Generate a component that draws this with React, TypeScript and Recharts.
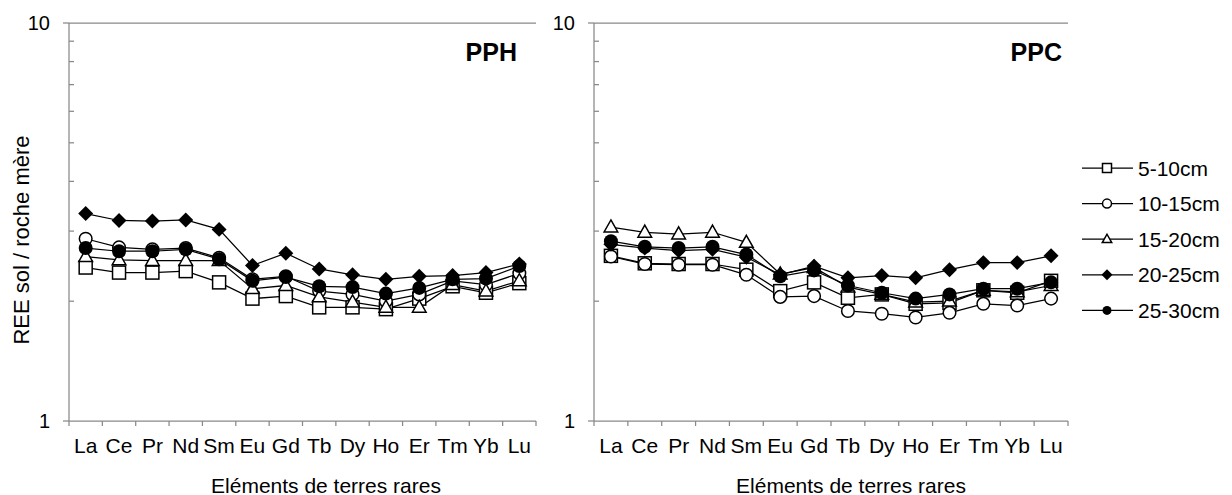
import React from 'react';
import { LineChart, Line, XAxis, YAxis, ReferenceLine } from 'recharts';

// Rare earth elements (x axis)
const elements = ['La', 'Ce', 'Pr', 'Nd', 'Sm', 'Eu', 'Gd', 'Tb', 'Dy', 'Ho', 'Er', 'Tm', 'Yb', 'Lu'];
const depths = ['5-10cm', '10-15cm', '15-20cm', '20-25cm', '25-30cm'];
const yTicks = [1, 2, 3, 4, 5, 6, 7, 8, 9, 10];

// PPH - REE sol / roche mere
const pph5_10 = [2.43, 2.36, 2.36, 2.38, 2.23, 2.03, 2.06, 1.93, 1.93, 1.91, 2.03, 2.18, 2.1, 2.22];
const pph10_15 = [2.87, 2.73, 2.7, 2.72, 2.57, 2.27, 2.31, 2.12, 2.08, 2.0, 2.08, 2.25, 2.2, 2.35];
const pph15_20 = [2.59, 2.54, 2.53, 2.53, 2.53, 2.15, 2.19, 2.05, 1.99, 1.93, 1.93, 2.2, 2.12, 2.25];
const pph20_25 = [3.32, 3.19, 3.18, 3.2, 3.03, 2.46, 2.64, 2.41, 2.33, 2.27, 2.31, 2.32, 2.36, 2.48];
const pph25_30 = [2.72, 2.67, 2.67, 2.7, 2.55, 2.25, 2.3, 2.18, 2.17, 2.09, 2.16, 2.27, 2.28, 2.45];

// PPC
const ppc5_10 = [2.6, 2.49, 2.48, 2.48, 2.4, 2.12, 2.23, 2.04, 2.08, 1.97, 1.98, 2.13, 2.1, 2.25];
const ppc10_15 = [2.59, 2.48, 2.47, 2.47, 2.33, 2.05, 2.06, 1.89, 1.86, 1.82, 1.87, 1.97, 1.95, 2.03];
const ppc15_20 = [3.07, 2.98, 2.95, 2.98, 2.81, 2.34, 2.43, 2.17, 2.08, 1.99, 2.0, 2.13, 2.11, 2.19];
const ppc20_25 = [2.78, 2.72, 2.68, 2.7, 2.58, 2.33, 2.45, 2.29, 2.32, 2.29, 2.4, 2.5, 2.5, 2.6];
const ppc25_30 = [2.83, 2.74, 2.72, 2.74, 2.62, 2.31, 2.39, 2.19, 2.1, 2.03, 2.08, 2.15, 2.15, 2.23];

const shapes = ['square', 'circle', 'triangle', 'diamond', 'dot'];
const markerR: any = { square: 6.5, circle: 6.3, triangle: 6.5, diamond: 6.8, dot: 7 };

const FONT = '"Liberation Sans", Arial, sans-serif';
const AXIS = '#898989';
const H = 495;
const TOP = 23;
const PLOT_H = 398;
const Y_W = 40;

const buildRows = (series: number[][]) =>
  elements.map((el, i) => {
    const row: any = { x: i + 0.5, el };
    series.forEach((s, k) => (row['s' + k] = s[i]));
    return row;
  });

const Marker = ({ shape, cx, cy, r = 6 }: any) => {
  if (cx == null || cy == null) return null;
  const sw = 1.5;
  switch (shape) {
    case 'square':
      return <rect x={cx - r} y={cy - r} width={r * 2} height={r * 2} fill="#fff" stroke="#000" strokeWidth={sw} />;
    case 'circle':
      return <circle cx={cx} cy={cy} r={r} fill="#fff" stroke="#000" strokeWidth={sw} />;
    case 'triangle':
      return (
        <polygon
          points={`${cx},${cy - r * 1.1} ${cx + r * 1.05},${cy + r * 0.75} ${cx - r * 1.05},${cy + r * 0.75}`}
          fill="#fff"
          stroke="#000"
          strokeWidth={sw}
        />
      );
    case 'diamond':
      return <polygon points={`${cx},${cy - r * 1.1} ${cx + r * 1.1},${cy} ${cx},${cy + r * 1.1} ${cx - r * 1.1},${cy}`} fill="#000" />;
    default:
      return <circle cx={cx} cy={cy} r={r} fill="#000" />;
  }
};

const YTick = (props: any) => {
  const { x, y, payload } = props;
  const ax = x + 8;
  const v = payload.value;
  const major = v === 1 || v === 10;
  return (
    <g>
      {major ? (
        <line x1={ax - 6} x2={ax} y1={y} y2={y} stroke={AXIS} strokeWidth={1.25} />
      ) : (
        <line x1={ax} x2={ax + 5} y1={y} y2={y} stroke={AXIS} strokeWidth={1.25} />
      )}
      {major && (
        <text x={ax - 19} y={y} textAnchor="end" dominantBaseline="central" fontSize={20} fontFamily={FONT} fill="#000">
          {v}
        </text>
      )}
    </g>
  );
};

const makeXTick = (step: number) => (props: any) => {
  const { x, y, payload } = props;
  const i = payload.value;
  if (i >= elements.length) return <g />;
  const axisY = y - 7;
  return (
    <text x={x + step / 2} y={axisY + 24} textAnchor="middle" dominantBaseline="central" fontSize={21} fontFamily={FONT} fill="#000">
      {elements[i]}
    </text>
  );
};

const REEChart = ({ series, left, plotW }: any) => {
  const data = buildRows(series);
  const marginLeft = 69 - Y_W;
  const width = 69 + plotW + 10;
  const XTick = makeXTick(plotW / elements.length);
  return (
    <div style={{ position: 'absolute', left, top: 0 }}>
      <LineChart width={width} height={H} data={data} margin={{ top: TOP, right: 10, left: marginLeft, bottom: H - TOP - PLOT_H - 30 }}>
        <XAxis
          dataKey="x"
          type="number"
          domain={[0, elements.length]}
          ticks={elements.map((_, i) => i).concat([elements.length])}
          interval={0}
          height={30}
          tickSize={5}
          tickMargin={2}
          stroke={AXIS}
          strokeWidth={1.25}
          tick={XTick}
        />
        <YAxis
          type="number"
          scale="log"
          domain={[1, 10]}
          ticks={yTicks}
          interval={0}
          width={Y_W}
          tickSize={6}
          tickMargin={2}
          tickLine={false}
          stroke={AXIS}
          strokeWidth={1.25}
          tick={YTick}
          allowDataOverflow
        />
        <ReferenceLine y={10} stroke={AXIS} strokeWidth={1.25} />
        {series.map((_: number[], k: number) => (
          <Line
            key={k}
            dataKey={'s' + k}
            stroke="#000"
            strokeWidth={1.25}
            isAnimationActive={false}
            dot={(p: any) => <Marker key={p.index} shape={shapes[k]} cx={p.cx} cy={p.cy} r={markerR[shapes[k]]} />}
            activeDot={false}
          />
        ))}
      </LineChart>
    </div>
  );
};

const App = () => {
  const legendY0 = 168;
  const legendStep = 35.6;
  return (
    <div style={{ position: 'absolute', left: 0, top: 0, width: 1232, height: H, background: '#fff' }}>
      <REEChart series={[pph5_10, pph10_15, pph15_20, pph20_25, pph25_30]} left={0} plotW={467} />
      <REEChart series={[ppc5_10, ppc10_15, ppc15_20, ppc20_25, ppc25_30]} left={525} plotW={474} />
      <svg width={1232} height={H} style={{ position: 'absolute', left: 0, top: 0, pointerEvents: 'none' }} fontFamily={FONT}>
        <text x={517} y={52} textAnchor="end" dominantBaseline="central" fontSize={25} fontWeight="bold">PPH</text>
        <text x={1062} y={52} textAnchor="end" dominantBaseline="central" fontSize={25} fontWeight="bold">PPC</text>
        <text x={326} y={485} textAnchor="middle" dominantBaseline="central" fontSize={21}>Eléments de terres rares</text>
        <text x={851} y={485} textAnchor="middle" dominantBaseline="central" fontSize={21}>Eléments de terres rares</text>
        <text
          x={21}
          y={240}
          textAnchor="middle"
          dominantBaseline="central"
          fontSize={22}
          transform="rotate(-90 21 240)"
        >
          REE sol / roche mère
        </text>
        {depths.map((d, i) => {
          const y = legendY0 + i * legendStep;
          return (
            <g key={d}>
              <line x1={1082} x2={1133} y1={y} y2={y} stroke="#000" strokeWidth={1.25} />
              <Marker shape={shapes[i]} cx={1107} cy={y} r={shapes[i] === 'diamond' ? 5 : 4.5} />
              <text x={1138} y={y} dominantBaseline="central" fontSize={21}>{d}</text>
            </g>
          );
        })}
      </svg>
    </div>
  );
};

export default App;
